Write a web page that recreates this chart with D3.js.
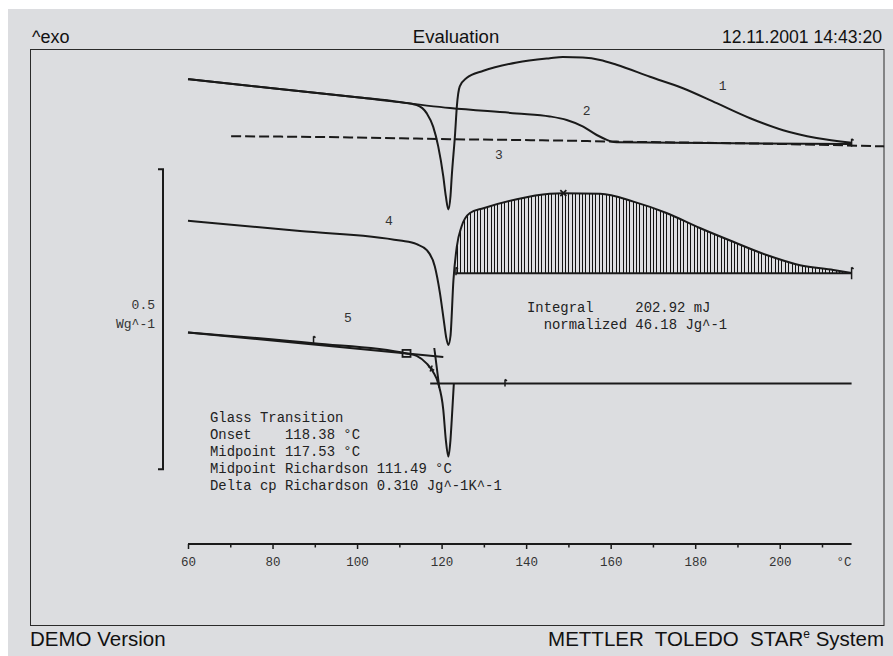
<!DOCTYPE html>
<html>
<head>
<meta charset="utf-8">
<script src="https://cdn.jsdelivr.net/npm/d3@7"></script>
<style>
  body { margin: 0; background: #fff; }
  svg { display: block; }
</style>
</head>
<body>
<svg id="chart" width="893" height="656"></svg>
<script>
// Temperature axis (°C)
const tempTicks = d3.range(60, 211, 10);
const tempLabels = [60, 80, 100, 120, 140, 160, 180, 200];

// Heat flow curves: [temperature °C, heat flow W/g incl. display offset], exo up
const curve1 = [[60,0.368],[80,0.353],[100,0.338],[110,0.330],[114.1,0.325],[116.5,0.311],[118.0,0.289],[119.2,0.256],[120.4,0.206],[121.0,0.173],[121.6,0.151],[122.1,0.173],[122.4,0.206],[123.2,0.278],[123.6,0.322],[124.3,0.356],[125.9,0.370],[129.9,0.382],[137.8,0.396],[145.6,0.403],[148.7,0.405],[153.4,0.404],[157.5,0.400],[161.4,0.392],[169.3,0.372],[177.1,0.353],[185.1,0.328],[193.0,0.303],[200.8,0.283],[208.7,0.270],[217.0,0.262]];
const curve2 = [[60,0.368],[80,0.353],[100,0.338],[122,0.320],[137.8,0.311],[145.6,0.306],[149.6,0.300],[153.5,0.289],[156.7,0.275],[159.1,0.267],[160.2,0.264],[161.4,0.263],[217,0.260]];
const curve3 = [[70.2,0.273],[98.3,0.271],[121.9,0.268],[145.6,0.266],[161.4,0.264],[200.8,0.260],[224.7,0.256]];
const curve4 = [[60,0.132],[86.5,0.115],[110.2,0.099],[114.1,0.093],[116.5,0.083],[118.4,0.056],[119.6,0.012],[120.5,-0.033],[121.1,-0.063],[121.6,-0.075],[122.1,-0.060],[122.8,0.033],[123.6,0.089],[124.7,0.122],[126.7,0.145],[129.9,0.153],[137.8,0.168],[145.6,0.177],[148.8,0.178],[157.5,0.177],[165.4,0.164],[173.2,0.145],[181.1,0.120],[189.0,0.097],[196.9,0.075],[204.8,0.058],[212.7,0.050],[217,0.045]];
const curve5 = [[60,-0.054],[89.7,-0.072],[111.7,-0.089],[114.1,-0.093],[116.5,-0.106],[118.0,-0.120],[119.2,-0.139],[120.4,-0.183],[121.0,-0.233],[121.6,-0.261],[122.1,-0.233],[122.4,-0.200],[122.9,-0.139]];

// Evaluation constructions
const integralBase = [[123.3,0.0445],[217,0.0445]];
const integralPeak = [148.8,0.178];
const tgBaseline = [[60,-0.054],[120.4,-0.095]];
const tgInflection = [[118.27,-0.080],[119.45,-0.146]];
const tgFinal = [[117.3,-0.139],[217,-0.139]];
const tgBoxPoint = [111.7,-0.089];
const tgMidPoint = [117.53,-0.114];

// Ordinate scale bar span (W/g)
const scaleBar = [0.218, -0.282];

const curveLabels = [["1",722.7,85],["2",586.7,110],["3",499,154],["4",389,220],["5",348,317]];

const svg = d3.select("#chart");
const W = 893, H = 656;
const ink = "#1a1a1a";

const x = d3.scaleLinear().domain([60, 210]).range([188, 822]);
const y = d3.scaleLinear().domain([-0.5, 0.5]).range([600, 0]);

// page background
svg.append("rect").attr("x", 8).attr("y", 9).attr("width", W - 8).attr("height", H - 9).attr("fill", "#dcdde0");
// frame
svg.append("rect").attr("x", 30.5).attr("y", 49.5).attr("width", 853.5).attr("height", 576)
  .attr("fill", "none").attr("stroke", "#2a2a2a").attr("stroke-width", 1);

// header
const sans = "'Liberation Sans', Arial, sans-serif";
const mono = "'Liberation Mono', 'Courier New', monospace";
svg.append("text").attr("x", 32).attr("y", 43).attr("font-family", sans).attr("font-size", 18).attr("fill", "#111").text("^exo");
svg.append("text").attr("x", 456).attr("y", 43).attr("text-anchor", "middle").attr("font-family", sans).attr("font-size", 18.5).attr("fill", "#111").text("Evaluation");
svg.append("text").attr("x", 882).attr("y", 43).attr("text-anchor", "end").attr("font-family", sans).attr("font-size", 17.6).attr("fill", "#111").text("12.11.2001 14:43:20");

// footer
svg.append("text").attr("x", 30).attr("y", 646).attr("font-family", sans).attr("font-size", 20.5).attr("fill", "#111").text("DEMO Version");
const foot = svg.append("text").attr("x", 884).attr("y", 646).attr("text-anchor", "end").attr("font-family", sans).attr("font-size", 20.5).attr("fill", "#111").attr("xml:space", "preserve");
foot.append("tspan").text("METTLER  TOLEDO  STAR");
foot.append("tspan").attr("font-size", 12).attr("dy", -8).text("e");
foot.append("tspan").attr("dy", 8).text(" System");

const line = d3.line().x(d => x(d[0])).y(d => y(d[1])).curve(d3.curveMonotoneX);
const straight = d3.line().x(d => x(d[0])).y(d => y(d[1]));

const plot = svg.append("g");

// hatched integral area between curve 4 and its baseline
const clip = svg.append("defs").append("clipPath").attr("id", "intClip");
clip.append("path").attr("d", d3.area().x(d => x(d[0])).y0(y(integralBase[0][1])).y1(d => y(d[1])).curve(d3.curveMonotoneX)(curve4));
const hatch = plot.append("g").attr("clip-path", "url(#intClip)");
hatch.selectAll("line").data(d3.range(123.6, 216.7, 0.8)).join("line")
  .attr("x1", d => Math.round(x(d)) + 0.5).attr("x2", d => Math.round(x(d)) + 0.5)
  .attr("y1", y(integralBase[0][1])).attr("y2", y(0.25))
  .attr("stroke", "#111").attr("stroke-width", 1.3)
  .attr("shape-rendering", "crispEdges");

// curves
const solid = [curve1, curve2, curve4, curve5];
plot.selectAll("path.curve").data(solid).join("path").attr("class", "curve")
  .attr("d", line).attr("fill", "none").attr("stroke", ink).attr("stroke-width", 2);
plot.append("path").attr("d", line(curve3)).attr("fill", "none").attr("stroke", ink)
  .attr("stroke-width", 2).attr("stroke-dasharray", "10,4");

// construction lines
[integralBase, tgBaseline, tgInflection, tgFinal].forEach(seg => {
  plot.append("path").attr("d", straight(seg)).attr("fill", "none").attr("stroke", ink).attr("stroke-width", 2);
});

// markers
const bp = [x(tgBoxPoint[0]), y(tgBoxPoint[1])];
plot.append("rect").attr("x", bp[0] - 4).attr("y", bp[1] - 3.5).attr("width", 8).attr("height", 7)
  .attr("fill", "none").attr("stroke", ink).attr("stroke-width", 1.8);
const mp = [x(tgMidPoint[0]), y(tgMidPoint[1])];
plot.append("path").attr("d", `M${mp[0]-3},${mp[1]-2}L${mp[0]+3},${mp[1]+2}M${mp[0]+1},${mp[1]-3}L${mp[0]-1},${mp[1]+3}`)
  .attr("stroke", ink).attr("stroke-width", 1.5);
const pk = [x(integralPeak[0]), y(integralPeak[1])];
plot.append("path").attr("d", `M${pk[0]-3},${pk[1]-3}L${pk[0]+3},${pk[1]+3}M${pk[0]+3},${pk[1]-3}L${pk[0]-3},${pk[1]+3}`)
  .attr("stroke", ink).attr("stroke-width", 1.8);

// evaluation limit marks
const limitTicks = [[89.7,-0.072,-7,0],[135,-0.139,-4,3],[123.4,0.0445,-6,2],[217,0.0445,-6,6],[217,0.262,-4,4]];
plot.selectAll("path.lim").data(limitTicks).join("path").attr("class", "lim")
  .attr("d", d => `M${x(d[0])},${y(d[1]) + d[2]}L${x(d[0])},${y(d[1]) + d[3]}M${x(d[0])},${y(d[1]) + d[2]}l2,1.5`)
  .attr("fill", "none").attr("stroke", ink).attr("stroke-width", 1.5);

// curve numbers
svg.selectAll("text.cl").data(curveLabels).join("text").attr("class", "cl")
  .attr("x", d => d[1]).attr("y", d => d[2] + 5).attr("text-anchor", "middle")
  .attr("font-family", mono).attr("font-size", 13).attr("fill", "#333").text(d => d[0]);

// ordinate scale bar: 0.5 W/g
const barTop = y(scaleBar[0]), barBot = y(scaleBar[1]);
svg.append("path").attr("d", `M158,${barTop}H163V${barBot}H158`).attr("fill", "none").attr("stroke", ink).attr("stroke-width", 2);
svg.append("text").attr("x", 155).attr("y", 309).attr("text-anchor", "end").attr("font-family", mono).attr("font-size", 13).attr("fill", "#333").text("0.5");
svg.append("text").attr("x", 155).attr("y", 328).attr("text-anchor", "end").attr("font-family", mono).attr("font-size", 13).attr("fill", "#333").text("Wg^-1");

// annotations
const note = (lines, x0, y0) => {
  const t = svg.append("text").attr("font-family", mono).attr("font-size", 13.9).attr("fill", "#222").attr("xml:space", "preserve");
  lines.forEach((s, i) => t.append("tspan").attr("x", x0).attr("y", y0 + i * 17).text(s));
};
note(["Integral     202.92 mJ", "  normalized 46.18 Jg^-1"], 527, 312);
note(["Glass Transition", "Onset    118.38 °C", "Midpoint 117.53 °C", "Midpoint Richardson 111.49 °C", "Delta cp Richardson 0.310 Jg^-1K^-1"], 210, 422);

// temperature axis
const axisY = 544;
const ax = svg.append("g").attr("transform", `translate(0,${axisY})`);
ax.append("line").attr("x1", x(60)).attr("x2", x(217)).attr("stroke", ink).attr("stroke-width", 2);
ax.call(d3.axisBottom(x).tickValues(tempTicks).tickSize(5).tickPadding(8)
  .tickFormat(d => tempLabels.includes(d) ? String(d) : ""));
ax.select(".domain").remove();
ax.selectAll(".tick line").attr("stroke", ink).attr("stroke-width", 1.5)
  .attr("y2", d => tempLabels.includes(d) ? 5 : 3.5);
ax.selectAll(".tick text").attr("font-family", mono).attr("font-size", 12.5).attr("fill", "#333");
ax.append("text").attr("x", 844).attr("y", 13 + 8.9).attr("text-anchor", "middle")
  .attr("font-family", mono).attr("font-size", 12.5).attr("fill", "#333").text("°C");
</script>
</body>
</html>
